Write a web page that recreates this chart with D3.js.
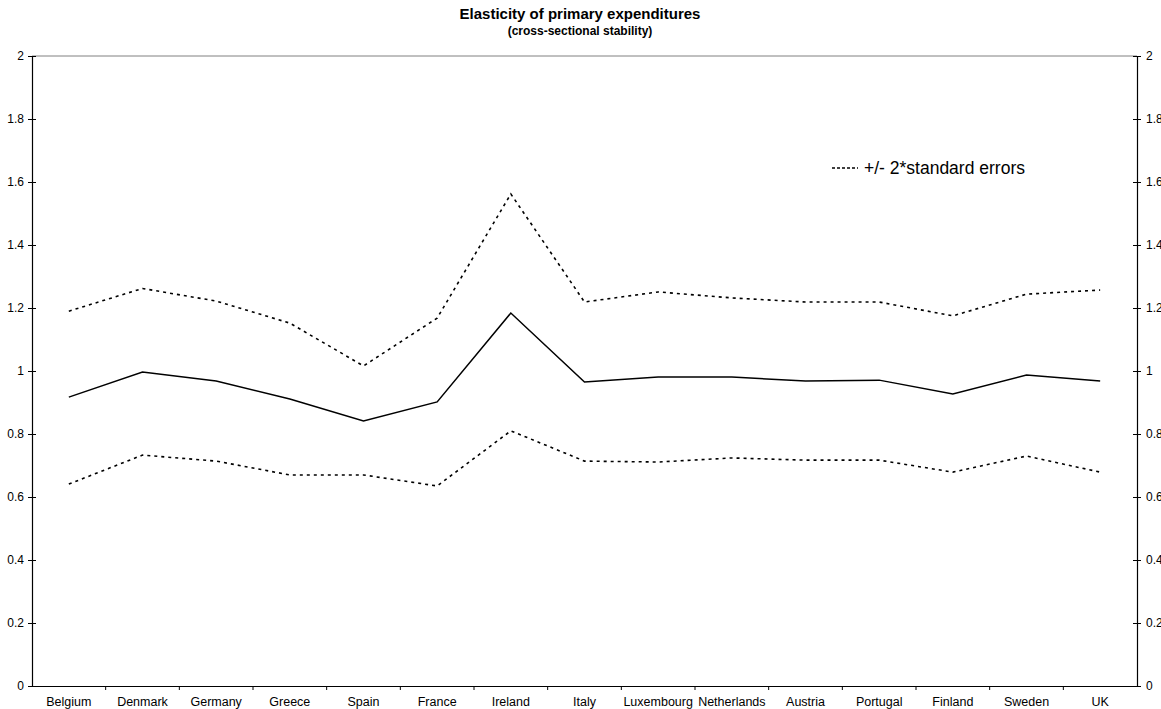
<!DOCTYPE html>
<html>
<head>
<meta charset="utf-8">
<script src="https://cdn.jsdelivr.net/npm/d3@7"></script>
<style>
  body { margin: 0; background: #fff; }
  svg { display: block; font-family: "Liberation Sans", Arial, sans-serif; }
</style>
</head>
<body>
<svg id="chart" width="1161" height="709"></svg>
<script>
// Countries along the x axis
const countries = ["Belgium", "Denmark", "Germany", "Greece", "Spain", "France", "Ireland",
  "Italy", "Luxembourg", "Netherlands", "Austria", "Portugal", "Finland", "Sweden", "UK"];

// Estimated elasticity per country
const elasticity = [0.917, 0.997, 0.968, 0.911, 0.841, 0.902, 1.184,
  0.965, 0.981, 0.981, 0.968, 0.971, 0.927, 0.987, 0.968];

// Upper and lower bands: estimate +/- 2 standard errors
const upperBand = [1.190, 1.262, 1.222, 1.152, 1.016, 1.168, 1.562,
  1.219, 1.251, 1.232, 1.219, 1.219, 1.175, 1.244, 1.257];
const lowerBand = [0.641, 0.733, 0.714, 0.670, 0.670, 0.635, 0.810,
  0.714, 0.711, 0.724, 0.717, 0.717, 0.679, 0.730, 0.679];

const yTicks = [0, 0.2, 0.4, 0.6, 0.8, 1, 1.2, 1.4, 1.6, 1.8, 2];

const svg = d3.select("#chart");
const plotLeft = 32, plotRight = 1137, plotTop = 56, plotBottom = 686;

const x = d3.scaleBand().domain(countries).range([plotLeft, plotRight]).padding(0);
const y = d3.scaleLinear().domain([0, 2]).range([plotBottom, plotTop]);

// Title
svg.append("text").attr("x", 580).attr("y", 19).attr("text-anchor", "middle")
  .attr("font-size", 15).attr("font-weight", "bold").text("Elasticity of primary expenditures");
svg.append("text").attr("x", 580).attr("y", 35).attr("text-anchor", "middle")
  .attr("font-size", 12).attr("font-weight", "bold").text("(cross-sectional stability)");

// Top border of plot area
svg.append("line").attr("x1", plotLeft).attr("x2", plotRight).attr("y1", plotTop).attr("y2", plotTop)
  .attr("stroke", "#808080").attr("stroke-width", 1);

// Left and right value axes (labels on the right run off the page edge)
const gL = svg.append("g").attr("transform", `translate(${plotLeft},0)`)
  .call(d3.axisLeft(y).tickValues(yTicks).tickSize(4).tickSizeOuter(0).tickFormat(d3.format("")));
const gR = svg.append("g").attr("transform", `translate(${plotRight},0)`)
  .call(d3.axisRight(y).tickValues(yTicks).tickSize(4).tickSizeOuter(0).tickFormat(d3.format("")));
[gL, gR].forEach(g => {
  g.select(".domain").attr("stroke", "#000").attr("stroke-width", 1.2);
  g.selectAll(".tick line").attr("stroke", "#000").attr("x1", -4).attr("x2", 4);
  g.selectAll(".tick text").attr("font-size", 12).attr("fill", "#000")
    .attr("font-family", "Liberation Sans, Arial, sans-serif");
});
gL.selectAll(".tick text").attr("x", -8);
gR.selectAll(".tick text").attr("x", 9);

// Bottom axis: ticks on category boundaries
const gB = svg.append("g").attr("transform", `translate(0,${plotBottom})`)
  .call(d3.axisBottom(x).tickSize(0).tickSizeOuter(0));
gB.select(".domain").attr("stroke", "#000").attr("stroke-width", 1.2);
gB.selectAll(".tick text").attr("font-size", 12.5).attr("fill", "#000").attr("dy", 0).attr("y", 20)
  .attr("font-family", "Liberation Sans, Arial, sans-serif");
svg.append("g").selectAll("line").data(countries.slice(1)).join("line")
  .attr("x1", d => x(d)).attr("x2", d => x(d))
  .attr("y1", plotBottom).attr("y2", plotBottom + 4).attr("stroke", "#000");

// Lines
const line = d3.line().x((d, i) => x(countries[i]) + x.bandwidth() / 2).y(d => y(d));
svg.append("path").datum(upperBand).attr("d", line).attr("fill", "none")
  .attr("stroke", "#000").attr("stroke-width", 1.6).attr("stroke-dasharray", "3,4");
svg.append("path").datum(lowerBand).attr("d", line).attr("fill", "none")
  .attr("stroke", "#000").attr("stroke-width", 1.6).attr("stroke-dasharray", "3,4");
svg.append("path").datum(elasticity).attr("d", line).attr("fill", "none")
  .attr("stroke", "#000").attr("stroke-width", 1.5);

// Legend
svg.append("line").attr("x1", 832).attr("x2", 858).attr("y1", 168).attr("y2", 168)
  .attr("stroke", "#000").attr("stroke-width", 1.6).attr("stroke-dasharray", "3,2");
svg.append("text").attr("x", 864).attr("y", 174).attr("font-size", 17.5)
  .text("+/- 2*standard errors");
</script>
</body>
</html>
